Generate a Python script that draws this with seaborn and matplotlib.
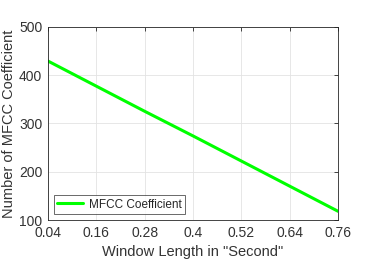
import numpy as np
import pandas as pd
import matplotlib
matplotlib.use("Agg")
import matplotlib.pyplot as plt
import seaborn as sns

# Dados
window_length = [0.04, 0.16, 0.28, 0.40, 0.52, 0.64, 0.76]
mfcc_coef = [429, 377, 325, 274, 222, 170, 118]
x_ticks = [0.04, 0.16, 0.28, 0.4, 0.52, 0.64, 0.76]
y_ticks = [100, 200, 300, 400, 500]

sns.set_style("whitegrid")
plt.rcParams['font.family'] = ['Liberation Sans', 'DejaVu Sans']

df = pd.DataFrame({'x': window_length, 'y': mfcc_coef})

fig = plt.figure(figsize=(3.74, 2.75), dpi=100)
ax = fig.add_axes([0.128, 0.2, 0.776, 0.703])

sns.lineplot(data=df, x='x', y='y', ax=ax, color=(0, 1, 0), linewidth=2.2,
             label='MFCC Coefficient')

ax.set_xlim(0.04, 0.76)
ax.set_ylim(100, 500)
ax.set_xticks(x_ticks)
ax.set_xticklabels(['0.04', '0.16', '0.28', '0.4', '0.52', '0.64', '0.76'])
ax.set_yticks(y_ticks)

txt = '#333333'
ax.grid(True, color='#e3e3e3', linewidth=0.6)
for s in ax.spines.values():
    s.set_color('#262626')
    s.set_linewidth(0.6)
    s.set_visible(True)
ax.tick_params(direction='in', length=3, width=0.6, colors='#262626',
               labelcolor=txt, labelsize=10, top=True, right=True, pad=4)

ax.set_xlabel('Window Length in "Second"', fontsize=10.5, color=txt)
ax.set_ylabel('Number of MFCC Coefficient', fontsize=10.5, color=txt, labelpad=2)

leg = ax.legend(loc='lower left', fontsize=8.5, frameon=True, fancybox=False,
                borderaxespad=0.5, handlelength=2.2, handletextpad=0.5,
                borderpad=0.3)
leg.get_frame().set_edgecolor('#262626')
leg.get_frame().set_linewidth(0.6)
for t in leg.get_texts():
    t.set_color('#262626')

fig.savefig('out.png', dpi=100)
